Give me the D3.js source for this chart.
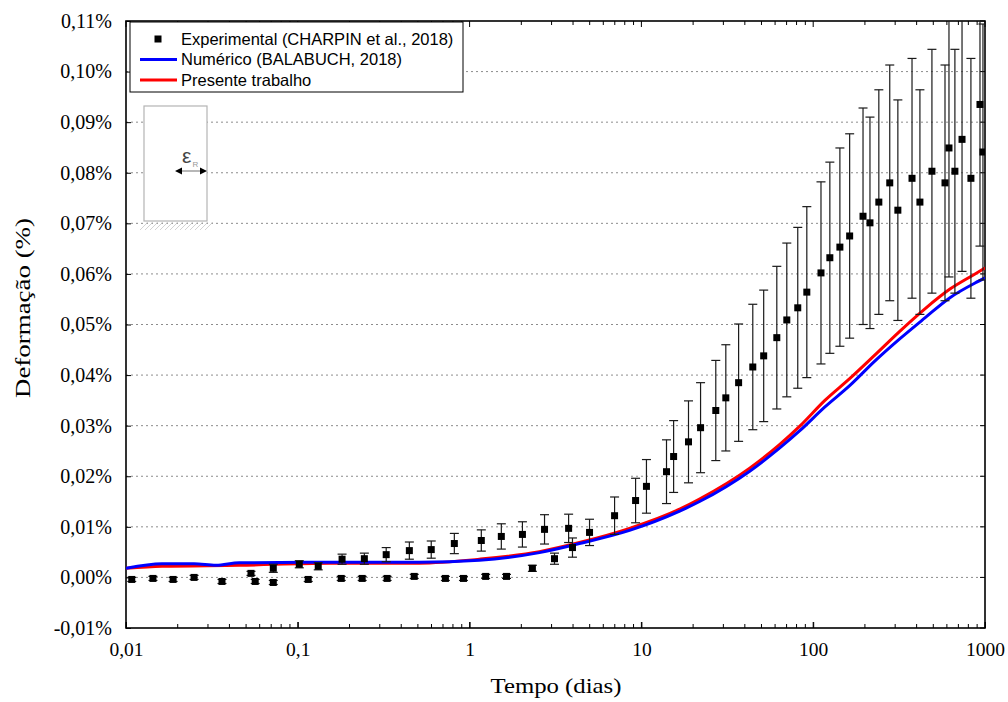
<!DOCTYPE html>
<html>
<head>
<meta charset="utf-8">
<script src="https://cdn.jsdelivr.net/npm/d3@7"></script>
<style>
  body { margin: 0; background: #fff; }
  svg { display: block; }
</style>
</head>
<body>
<script>
// pontos experimentais (CHARPIN et al., 2018): tempo (dias), deformação (%), erro (%)
const expTime = [0.0108, 0.01435, 0.0188, 0.0249, 0.0362, 0.0534, 0.0565, 0.072, 0.072, 0.102,
  0.115, 0.1315, 0.179, 0.181, 0.237, 0.244, 0.327, 0.331, 0.446, 0.476,
  0.598, 0.723, 0.815, 0.921, 1.17, 1.24, 1.53, 1.64, 2.03, 2.32,
  2.73, 3.12, 3.77, 3.97, 4.99, 6.98, 9.25, 10.7, 14.0, 15.4,
  18.8, 22.1, 27.1, 31.0, 36.8, 44.5, 51.5, 61.4, 70.2, 81.3,
  91.8, 111, 125, 143, 163, 195, 214, 241, 279, 311,
  376, 418, 491, 585, 617, 668, 735, 828, 935, 973];
const expStrain = [-0.0004, -0.0002, -0.0004, 0.0000, -0.0008, 0.0008, -0.0008, -0.0010, 0.0018, 0.0026,
  -0.0004, 0.0022, -0.0002, 0.0036, -0.0002, 0.0037, 0.0045, -0.0002, 0.0053, 0.0002,
  0.0055, -0.0002, 0.0067, -0.0002, 0.0073, 0.0002, 0.0081, 0.0002, 0.0085, 0.0018,
  0.0095, 0.0037, 0.0097, 0.0059, 0.0089, 0.0122, 0.0152, 0.0180, 0.0209, 0.0239,
  0.0268, 0.0296, 0.0330, 0.0355, 0.0385, 0.0416, 0.0438, 0.0474, 0.0509, 0.0533,
  0.0564, 0.0602, 0.0632, 0.0653, 0.0675, 0.0714, 0.0701, 0.0742, 0.0780, 0.0726,
  0.0789, 0.0742, 0.0803, 0.0780, 0.0849, 0.0803, 0.0866, 0.0789, 0.0935, 0.0841];
const expError = [0.0004, 0.0004, 0.0004, 0.0004, 0.0004, 0.0004, 0.0004, 0.0004, 0.0008, 0.0007,
  0.0004, 0.0007, 0.0004, 0.0010, 0.0004, 0.0011, 0.0014, 0.0004, 0.0017, 0.0004,
  0.0017, 0.0004, 0.0020, 0.0004, 0.0021, 0.0004, 0.0025, 0.0004, 0.0025, 0.0006,
  0.0029, 0.0011, 0.0028, 0.0019, 0.0026, 0.0037, 0.0044, 0.0053, 0.0063, 0.0071,
  0.0081, 0.0089, 0.0099, 0.0105, 0.0116, 0.0124, 0.0130, 0.0141, 0.0152, 0.0159,
  0.0169, 0.0180, 0.0189, 0.0196, 0.0202, 0.0214, 0.0209, 0.0222, 0.0233, 0.0218,
  0.0237, 0.0222, 0.0241, 0.0233, 0.0255, 0.0241, 0.0261, 0.0237, 0.0280, 0.0253];

// modelo numérico (BALABUCH, 2018)
const numTime = [0.01, 0.0162, 0.0249, 0.0334, 0.0456, 0.152, 0.509, 1.14, 2.55, 4.36,
  8.53, 16.7, 21.8, 42.7, 63.9, 83.6, 117, 163, 229, 320, 447, 625, 875, 1000];
const numStrain = [0.0018, 0.0027, 0.0027, 0.0024, 0.0029, 0.0030, 0.0030, 0.0034, 0.0049, 0.0067,
  0.0093, 0.0131, 0.0150, 0.0210, 0.0256, 0.0290, 0.0337, 0.0379, 0.0428, 0.0472, 0.0513, 0.0553, 0.0582, 0.0592];

// presente trabalho
const presTime = [0.01, 0.0162, 0.0456, 0.152, 0.509, 1.14, 2.55, 4.36, 8.53, 16.7,
  21.8, 42.7, 63.9, 83.6, 117, 163, 229, 320, 447, 625, 875, 1000];
const presStrain = [0.0018, 0.0022, 0.0024, 0.0028, 0.0028, 0.0036, 0.0051, 0.0069, 0.0097, 0.0135,
  0.0155, 0.0216, 0.0263, 0.0299, 0.0350, 0.0393, 0.0440, 0.0487, 0.0531, 0.0570, 0.0600, 0.0612];

const xTicks = [0.01, 0.1, 1, 10, 100, 1000];
const xTickLabels = ["0,01", "0,1", "1", "10", "100", "1000"];
const yTicks = [-0.01, 0, 0.01, 0.02, 0.03, 0.04, 0.05, 0.06, 0.07, 0.08, 0.09, 0.10, 0.11];
const yTickLabels = ["-0,01%", "0,00%", "0,01%", "0,02%", "0,03%", "0,04%", "0,05%", "0,06%",
  "0,07%", "0,08%", "0,09%", "0,10%", "0,11%"];

const seriesNames = ["Experimental (CHARPIN et al., 2018)", "Numérico (BALABUCH, 2018)", "Presente trabalho"];

const width = 1008;
const height = 702;
const margin = {top: 21, right: 23, bottom: 74, left: 126};
const serif = "'Liberation Serif', 'Times New Roman', serif";
const sans = "'Liberation Sans', Arial, sans-serif";

const svg = d3.select("body")
  .append("svg")
  .attr("width", width)
  .attr("height", height);

const x = d3.scaleLog()
  .domain([0.01, 1000])
  .range([margin.left, width - margin.right]);

const y = d3.scaleLinear()
  .domain([-0.01, 0.11])
  .range([height - margin.bottom, margin.top]);

svg.append("clipPath")
  .attr("id", "plot-clip")
  .append("rect")
  .attr("x", margin.left)
  .attr("y", margin.top)
  .attr("width", x.range()[1] - x.range()[0])
  .attr("height", y.range()[0] - y.range()[1]);

// grade horizontal pontilhada
svg.append("g")
  .selectAll("line")
  .data(yTicks.slice(1, -1))
  .join("line")
  .attr("x1", x.range()[0])
  .attr("x2", x.range()[1])
  .attr("y1", d => y(d))
  .attr("y2", d => y(d))
  .attr("stroke", "#8c8c8c")
  .attr("stroke-width", 1)
  .attr("stroke-dasharray", "2,3");

// eixo x (log) com ticks para dentro
const minorTicks = x.ticks().filter(d => !xTicks.includes(d));
const xAxis = d3.axisBottom(x)
  .tickValues(xTicks)
  .tickFormat((d, i) => xTickLabels[i])
  .tickSizeInner(-6)
  .tickSizeOuter(0)
  .tickPadding(14);

const gx = svg.append("g")
  .attr("transform", `translate(0,${y.range()[0]})`)
  .call(xAxis);
gx.select(".domain").remove();
gx.selectAll("text")
  .attr("font-family", serif)
  .attr("font-size", 19.5)
  .attr("fill", "#000");

[y.range()[0], y.range()[1]].forEach((yy, k) => {
  const dir = k === 0 ? -1 : 1;
  svg.append("g")
    .selectAll("line")
    .data(minorTicks)
    .join("line")
    .attr("x1", d => x(d))
    .attr("x2", d => x(d))
    .attr("y1", yy)
    .attr("y2", yy + dir * 4)
    .attr("stroke", "#000");
  svg.append("g")
    .selectAll("line")
    .data(xTicks)
    .join("line")
    .attr("x1", d => x(d))
    .attr("x2", d => x(d))
    .attr("y1", yy)
    .attr("y2", yy + dir * 6)
    .attr("stroke", "#000");
});

// eixo y
const yAxis = d3.axisLeft(y)
  .tickValues(yTicks)
  .tickFormat((d, i) => yTickLabels[i])
  .tickSizeInner(-5)
  .tickSizeOuter(0)
  .tickPadding(14);

const gy = svg.append("g")
  .attr("transform", `translate(${x.range()[0]},0)`)
  .call(yAxis);
gy.select(".domain").remove();
gy.selectAll("text")
  .attr("font-family", serif)
  .attr("font-size", 20)
  .attr("fill", "#000");

svg.append("g")
  .selectAll("line")
  .data(yTicks)
  .join("line")
  .attr("x1", x.range()[1])
  .attr("x2", x.range()[1] - 5)
  .attr("y1", d => y(d))
  .attr("y2", d => y(d))
  .attr("stroke", "#000");

// moldura
svg.append("rect")
  .attr("x", x.range()[0])
  .attr("y", y.range()[1])
  .attr("width", x.range()[1] - x.range()[0])
  .attr("height", y.range()[0] - y.range()[1])
  .attr("fill", "none")
  .attr("stroke", "#000")
  .attr("stroke-width", 1.6);

// croqui do corpo de prova
const inset = svg.append("g")
  .attr("transform", `translate(${margin.left + 18},${margin.top + 85})`);
inset.append("rect")
  .attr("width", 63)
  .attr("height", 115)
  .attr("fill", "#fff")
  .attr("stroke", "#b4b4b4")
  .attr("stroke-width", 1.2);
inset.append("g")
  .selectAll("line")
  .data(d3.range(0, 66, 5))
  .join("line")
  .attr("x1", d => d - 4)
  .attr("y1", 124)
  .attr("x2", d => d + 4)
  .attr("y2", 116)
  .attr("stroke", "#c8c8c8")
  .attr("stroke-width", 0.8);
inset.append("line")
  .attr("x1", 37)
  .attr("x2", 57)
  .attr("y1", 65)
  .attr("y2", 65)
  .attr("stroke", "#888")
  .attr("stroke-width", 1.2);
inset.append("path")
  .attr("d", "M31,65 L38,61.5 L38,68.5 Z M63,65 L56,61.5 L56,68.5 Z")
  .attr("fill", "#000");
inset.append("text")
  .attr("x", 38)
  .attr("y", 57)
  .attr("font-family", sans)
  .attr("font-size", 21)
  .attr("fill", "#444")
  .text("ε");
inset.append("text")
  .attr("x", 48.5)
  .attr("y", 61)
  .attr("font-family", sans)
  .attr("font-size", 8)
  .attr("fill", "#999")
  .text("R");

// curvas
const line = d3.line()
  .x(d => x(d[0]))
  .y(d => y(d[1]))
  .curve(d3.curveMonotoneX);

const plot = svg.append("g").attr("clip-path", "url(#plot-clip)");

plot.append("path")
  .datum(presTime.map((t, i) => [t, presStrain[i]]))
  .attr("d", line)
  .attr("fill", "none")
  .attr("stroke", "#ff0000")
  .attr("stroke-width", 3);

plot.append("path")
  .datum(numTime.map((t, i) => [t, numStrain[i]]))
  .attr("d", line)
  .attr("fill", "none")
  .attr("stroke", "#0000ff")
  .attr("stroke-width", 3);

// barras de erro e pontos experimentais
const expData = expTime.map((t, i) => ({t: t, v: expStrain[i], e: expError[i]}));
const cap = 4.5;

const bars = plot.append("g")
  .selectAll("g")
  .data(expData)
  .join("g")
  .attr("stroke", "#1a1a1a")
  .attr("stroke-width", 1.2);
bars.append("line")
  .attr("x1", d => x(d.t))
  .attr("x2", d => x(d.t))
  .attr("y1", d => y(d.v - d.e))
  .attr("y2", d => y(d.v + d.e));
bars.append("line")
  .attr("x1", d => x(d.t) - cap)
  .attr("x2", d => x(d.t) + cap)
  .attr("y1", d => y(d.v + d.e))
  .attr("y2", d => y(d.v + d.e));
bars.append("line")
  .attr("x1", d => x(d.t) - cap)
  .attr("x2", d => x(d.t) + cap)
  .attr("y1", d => y(d.v - d.e))
  .attr("y2", d => y(d.v - d.e));

plot.append("g")
  .selectAll("rect")
  .data(expData)
  .join("rect")
  .attr("x", d => x(d.t) - 3.5)
  .attr("y", d => y(d.v) - 3.5)
  .attr("width", 7)
  .attr("height", 7)
  .attr("fill", "#000");

// legenda
const legend = svg.append("g")
  .attr("transform", `translate(${margin.left + 4},${margin.top + 1})`);
legend.append("rect")
  .attr("width", 333)
  .attr("height", 70)
  .attr("fill", "#fff")
  .attr("stroke", "#000")
  .attr("stroke-width", 1);

const legendRows = legend.selectAll("g.row")
  .data(seriesNames)
  .join("g")
  .attr("class", "row")
  .attr("transform", (d, i) => `translate(0,${17 + i * 20.5})`);

legendRows.append("text")
  .attr("x", 51)
  .attr("y", 5.5)
  .attr("font-family", sans)
  .attr("font-size", 16.5)
  .attr("fill", "#000")
  .text(d => d);

legendRows.filter((d, i) => i === 0)
  .append("rect")
  .attr("x", 24.5)
  .attr("y", -3.5)
  .attr("width", 7)
  .attr("height", 7)
  .attr("fill", "#000");

legendRows.filter((d, i) => i > 0)
  .append("line")
  .attr("x1", 10)
  .attr("x2", 47)
  .attr("y1", 0)
  .attr("y2", 0)
  .attr("stroke", (d, i) => i === 0 ? "#0000ff" : "#ff0000")
  .attr("stroke-width", 3);

// títulos dos eixos
svg.append("text")
  .attr("x", 556)
  .attr("y", 693)
  .attr("text-anchor", "middle")
  .attr("font-family", serif)
  .attr("font-size", 22)
  .attr("textLength", 131)
  .attr("lengthAdjust", "spacingAndGlyphs")
  .attr("fill", "#000")
  .text("Tempo (dias)");

svg.append("text")
  .attr("transform", `translate(30,308) rotate(-90)`)
  .attr("text-anchor", "middle")
  .attr("font-family", serif)
  .attr("font-size", 22)
  .attr("textLength", 180)
  .attr("lengthAdjust", "spacingAndGlyphs")
  .attr("fill", "#000")
  .text("Deformação (%)");
</script>
</body>
</html>
